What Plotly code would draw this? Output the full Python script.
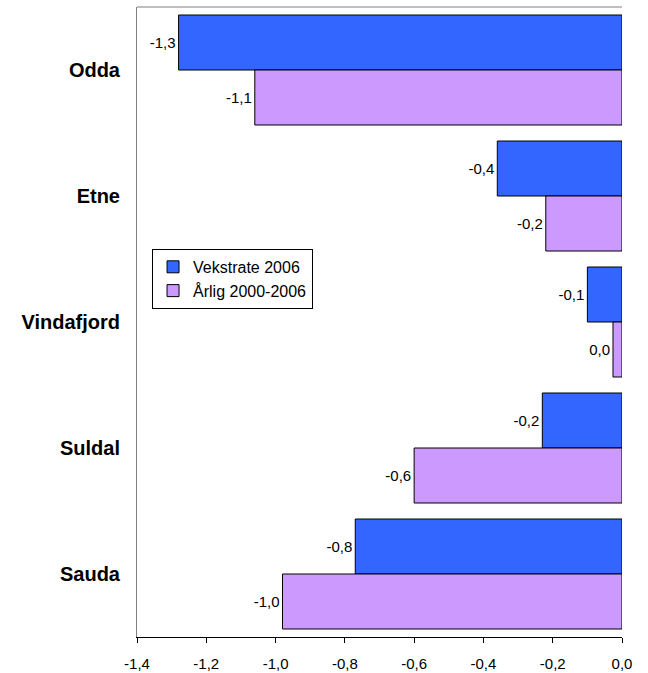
import plotly.graph_objects as go

categories = ["Odda", "Etne", "Vindafjord", "Suldal", "Sauda"]
vekstrate_2006 = [-1.28, -0.36, -0.10, -0.23, -0.77]
arlig_2000_2006 = [-1.06, -0.22, -0.026, -0.60, -0.98]
series_names = ["Vekstrate 2006", "Årlig 2000-2006"]
x_tickvals = [-1.4, -1.2, -1.0, -0.8, -0.6, -0.4, -0.2, 0.0]
x_ticktext = ["-1,4", "-1,2", "-1,0", "-0,8", "-0,6", "-0,4", "-0,2", "0,0"]

FONT = "Arial, Liberation Sans, sans-serif"


def fmt(v):
    s = f"{v:.1f}".replace(".", ",")
    return "0,0" if s == "-0,0" else s


fig = go.Figure()
for name, vals, color in [
    (series_names[0], vekstrate_2006, "#3366FF"),
    (series_names[1], arlig_2000_2006, "#CC99FF"),
]:
    fig.add_trace(go.Bar(
        y=categories, x=vals, orientation="h", name=name,
        marker=dict(color=color, line=dict(color="black", width=1)),
        text=[fmt(v) for v in vals], textposition="outside",
        textfont=dict(family=FONT, size=15, color="black"),
        constraintext="none", cliponaxis=False,
    ))

fig.update_layout(
    width=648, height=673,
    margin=dict(l=137, r=26, t=7, b=36),
    paper_bgcolor="white", plot_bgcolor="white",
    barmode="group", bargap=0.127, bargroupgap=0,
    font=dict(family=FONT, size=15, color="black"),
    showlegend=True,
    legend=dict(
        x=0.031, y=0.616, xanchor="left", yanchor="top",
        bgcolor="white", bordercolor="black", borderwidth=1,
        font=dict(family=FONT, size=16, color="black"),
        traceorder="normal", itemwidth=30,
    ),
    xaxis=dict(
        range=[-1.4, 0], tickvals=x_tickvals, ticktext=x_ticktext,
        showgrid=False, zeroline=False, automargin=False,
        showline=True, linecolor="black", linewidth=1,
        ticks="outside", ticklen=5, tickcolor="black",
        tickfont=dict(family=FONT, size=15, color="black"),
        ticklabelstandoff=8,
    ),
    yaxis=dict(
        type="category", categoryorder="array", categoryarray=categories,
        range=[4.5, -0.5], automargin=False,
        showgrid=False, zeroline=False,
        showline=True, linecolor="#808080", linewidth=1,
        ticks="", ticklabelstandoff=12,
        tickfont=dict(family=FONT, size=20, color="black", weight="bold"),
    ),
    yaxis2=dict(
        overlaying="y", side="right", range=[4.5, -0.5], automargin=False,
        showgrid=False, zeroline=False,
        showline=True, linecolor="black", linewidth=1,
        ticks="inside", ticklen=7, tickcolor="#808080",
        tickvals=[0.5, 1.5, 2.5, 3.5], showticklabels=False,
    ),
    shapes=[dict(type="line", xref="paper", yref="paper", x0=0, x1=1, y0=1, y1=1,
                 line=dict(color="#808080", width=1))],
)

fig.write_html("out.html", config={"displayModeBar": False},
               post_script="document.body.style.margin='0px';")
